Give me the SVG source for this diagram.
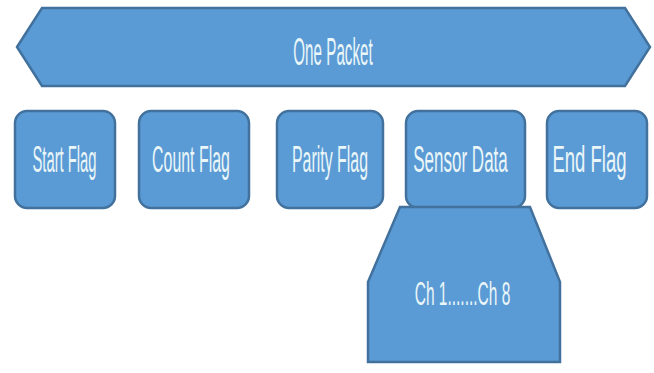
<svg xmlns="http://www.w3.org/2000/svg" width="654" height="373" viewBox="0 0 654 373">
  <style>
    .shape { fill: #5B9BD5; stroke: #41719C; stroke-width: 2.5; stroke-linejoin: miter; }
    .label { font-family: "Liberation Sans", Arial, sans-serif; fill: #EAF6F8; text-anchor: middle; }
    .big { font-size: 39px; }
    .mid { font-size: 37px; }
    .small { font-size: 33px; }
  </style>
  <rect width="654" height="373" fill="#FFFFFF"/>

  <g id="packet">
    <polygon class="shape" points="17,47 42,8 625,8 650,47 625,86 42,86"/>
    <text class="label big" transform="translate(333,65) scale(0.39,1)">One Packet</text>
  </g>

  <g id="start-flag">
    <rect class="shape" x="15" y="111" width="100" height="97" rx="12"/>
    <text class="label mid" transform="translate(64.5,172) scale(0.4,1)">Start Flag</text>
  </g>

  <g id="count-flag">
    <rect class="shape" x="139" y="111" width="110" height="97" rx="12"/>
    <text class="label mid" transform="translate(191,172) scale(0.43,1)">Count Flag</text>
  </g>

  <g id="parity-flag">
    <rect class="shape" x="277" y="111" width="106" height="97" rx="12"/>
    <text class="label mid" transform="translate(330,172) scale(0.43,1)">Parity Flag</text>
  </g>

  <g id="sensor-data">
    <rect class="shape" x="406" y="111" width="119" height="97" rx="12"/>
    <text class="label mid" transform="translate(460.5,172) scale(0.46,1)">Sensor Data</text>
  </g>

  <g id="end-flag">
    <rect class="shape" x="547" y="111" width="100" height="97" rx="12"/>
    <text class="label mid" transform="translate(589.5,172) scale(0.5,1)">End Flag</text>
  </g>

  <g id="channels">
    <polygon class="shape" points="400,207 530,207 560,282 560,362 368,362 368,282"/>
    <text class="label small" transform="translate(462.5,305) scale(0.47,1)">Ch 1.......Ch 8</text>
  </g>

  <g id="connectors"></g>
</svg>
